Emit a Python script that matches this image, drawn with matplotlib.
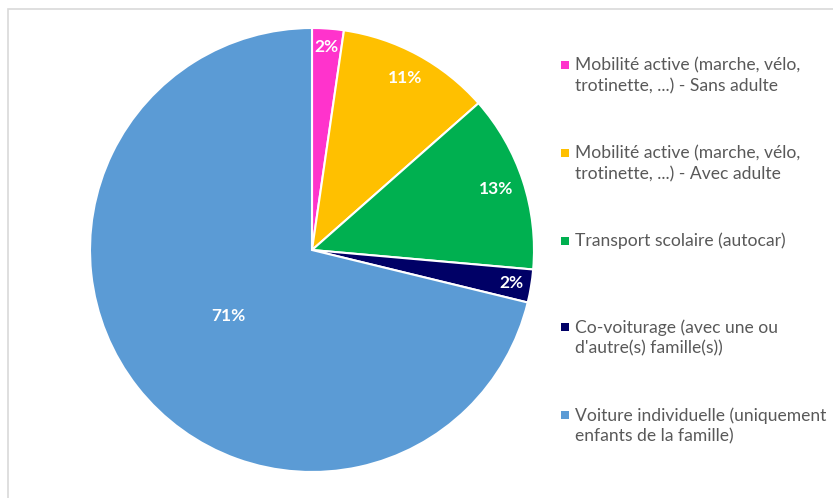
import numpy as np
import matplotlib
matplotlib.use("Agg")
import matplotlib.pyplot as plt
from matplotlib.patches import Rectangle

# --- Data ---
categories = [
    "Mobilité active (marche, vélo,\ntrotinette, ...) - Sans adulte",
    "Mobilité active (marche, vélo,\ntrotinette, ...) - Avec adulte",
    "Transport scolaire (autocar)",
    "Co-voiturage (avec une ou\nd'autre(s) famille(s))",
    "Voiture individuelle (uniquement\nenfants de la famille)",
]
values = [2.3, 11.2, 12.9, 2.4, 71.2]
pct_labels = ["2%", "11%", "13%", "2%", "71%"]
colors = ["#ff33cc", "#ffc000", "#00b050", "#000066", "#5b9bd5"]

plt.rcParams["font.family"] = ["Lato", "DejaVu Sans"]

fig = plt.figure(figsize=(8.33, 4.98), dpi=100)
W, H = 833, 498

# chart frame
fig.patches.append(Rectangle((8 / W, -0.1), 1.0, (498 - 9) / H + 0.1,
                             transform=fig.transFigure, fill=False,
                             edgecolor="#d9d9d9", linewidth=1.2))

# --- Pie ---
ax = fig.add_axes([90 / W, 26 / H, 444 / W, 444 / H])
wedges, _ = ax.pie(values, colors=colors, startangle=90, counterclock=False,
                   radius=1.0,
                   wedgeprops=dict(edgecolor="white", linewidth=1.5))
ax.set_xlim(-1, 1)
ax.set_ylim(-1, 1)
ax.set_aspect("equal")
ax.axis("off")

# percentage labels
label_r = [0.915, 0.88, 0.875, 0.91, 0.48]
cum = np.cumsum([0] + values[:-1])
total = sum(values)
for v, c, r, lab in zip(values, cum, label_r, pct_labels):
    ang = np.deg2rad(90 - 360 * (c + v / 2) / total)
    ax.text(r * np.cos(ang), r * np.sin(ang), lab, ha="center", va="center",
            color="white", fontsize=12.5, fontweight="bold")

# --- Legend ---
legend_y = [76, 164, 241, 338, 426]
for lab, col, y in zip(categories, colors, legend_y):
    first_line_y = y - 11 if "\n" in lab else y
    fig.patches.append(Rectangle((561 / W, 1 - (first_line_y + 4) / H), 8 / W, 8 / H,
                                 transform=fig.transFigure, facecolor=col,
                                 edgecolor="none"))
    fig.text(575 / W, 1 - y / H, lab, ha="left", va="center", color="#595959",
             fontsize=12.6, linespacing=1.33)

fig.savefig("out.png", dpi=100)
